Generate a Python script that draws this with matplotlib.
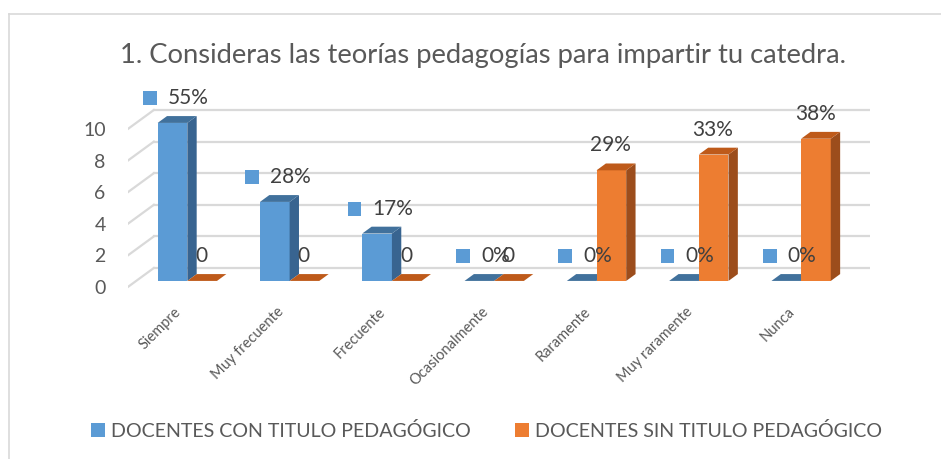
import matplotlib
matplotlib.use("Agg")
import matplotlib.pyplot as plt
from matplotlib.patches import Polygon, Patch, Rectangle
from matplotlib.lines import Line2D
from matplotlib.offsetbox import HPacker, DrawingArea, TextArea, AnnotationBbox

plt.rcParams['font.family'] = ['Lato', 'DejaVu Sans']

# ---- data ----
title = "1. Consideras las teorías pedagogías para impartir tu catedra."
categories = ["Siempre", "Muy frecuente", "Frecuente", "Ocasionalmente",
              "Raramente", "Muy raramente", "Nunca"]
con_titulo = [10, 5, 3, 0, 0, 0, 0]
sin_titulo = [0, 0, 0, 0, 7, 8, 9]
con_labels = ["55%", "28%", "17%", "0%", "0%", "0%", "0%"]
sin_labels = ["0", "0", "0", "0", "29%", "33%", "38%"]
y_ticks = [0, 2, 4, 6, 8, 10]
series_names = ["DOCENTES CON TITULO PEDAGÓGICO", "DOCENTES SIN TITULO PEDAGÓGICO"]

# ---- style / layout ----
W, H, DPI = 941, 459, 100
BLUE = dict(front="#5B9BD5", top="#41719C", side="#386490")
ORANGE = dict(front="#ED7D31", top="#BE5A1A", side="#9C4D1C")
GRID = "#D9D9D9"
AXTXT = "#595959"
LBLTXT = "#404040"

PX_CAT, PX_UNIT = 102.3, 15.8      # pixels per category / per value unit
X0_PX, Y0_PX = 179.0, 287.0         # pixel of category 0 / value 0 on front plane
DX, DY = 26 / PX_CAT, 19 / PX_UNIT  # full depth offset (back wall)
D1, D2 = 0.32, 0.68                 # bar front / back depth fraction
BW = 0.29                           # bar width (category units)

xmin, xmax = -0.5, len(categories) - 0.5 + DX
ymin, ymax = -0.3, 11.5

fig = plt.figure(figsize=(W / DPI, H / DPI), dpi=DPI)
left_px = X0_PX + xmin * PX_CAT
right_px = X0_PX + xmax * PX_CAT
bot_px = Y0_PX - ymin * PX_UNIT
top_px = Y0_PX - ymax * PX_UNIT
ax = fig.add_axes([left_px / W, 1 - bot_px / H, (right_px - left_px) / W, (bot_px - top_px) / H])
ax.set_xlim(xmin, xmax)
ax.set_ylim(ymin, ymax)
for s in ax.spines.values():
    s.set_visible(False)

# back wall gridlines + left wall diagonals
for v in y_ticks:
    ax.plot([-0.5 + DX, len(categories) - 0.5 + DX], [v + DY, v + DY], color=GRID, lw=1.6, zorder=1)
    ax.plot([-0.5, -0.5 + DX], [v, v + DY], color=GRID, lw=1.6, zorder=1)

def bar3d(x0, val, cols, z):
    x0 = x0 + D1 * DX
    b = D1 * DY
    x1 = x0 + BW
    t = b + val
    ddx, ddy = (D2 - D1) * DX, (D2 - D1) * DY
    if val > 0:
        ax.bar(x0, val, width=BW, bottom=b, align='edge', color=cols["front"], zorder=z, linewidth=0)
        ax.add_patch(Polygon([(x1, b), (x1, t), (x1 + ddx, t + ddy), (x1 + ddx, b + ddy)],
                             closed=True, color=cols["side"], zorder=z, lw=0))
    ax.add_patch(Polygon([(x0, t), (x1, t), (x1 + ddx, t + ddy), (x0 + ddx, t + ddy)],
                         closed=True, color=cols["top"], zorder=z, lw=0))

for i, (a, b) in enumerate(zip(con_titulo, sin_titulo)):
    bar3d(i - BW, a, BLUE, 3 + i * 2)
    bar3d(i, b, ORANGE, 4 + i * 2)

LBL_OFF = D2 * DY + 1.14
# data labels
for i, (a, lab) in enumerate(zip(con_titulo, con_labels)):
    da = DrawingArea(10, 10, 0, 0)
    da.add_artist(Rectangle((0, 0), 10, 10, color=BLUE["front"], lw=0))
    ta = TextArea(lab, textprops=dict(fontsize=15, color=LBLTXT))
    box = HPacker(children=[da, ta], align="center", pad=0, sep=8)
    ab = AnnotationBbox(box, (i - 0.03, a + LBL_OFF), xycoords='data', frameon=False,
                        box_alignment=(0.5, 0.5), pad=0, zorder=20, annotation_clip=False)
    ax.add_artist(ab)
for i, (b, lab) in enumerate(zip(sin_titulo, sin_labels)):
    ax.text(i + 0.22, b + LBL_OFF, lab, fontsize=15, color=LBLTXT, ha='center', va='center',
            zorder=21, clip_on=False)

# axes ticks
ax.set_yticks(y_ticks)
ax.set_yticklabels([str(v) for v in y_ticks])
ax.set_xticks(range(len(categories)))
ax.set_xticklabels(categories)
ax.tick_params(axis='y', length=0, pad=16, labelsize=14, labelcolor=AXTXT)
ax.tick_params(axis='x', length=0, pad=13, labelsize=10.5, labelcolor=AXTXT)
for lbl in ax.get_xticklabels():
    lbl.set_rotation(45)
    lbl.set_ha('right')
    lbl.set_va('center')
    lbl.set_rotation_mode('anchor')

# title
fig.text(483 / W, 1 - 63 / H, title, ha='center', va='baseline', fontsize=19.7, color=AXTXT)

# legend
handles = [Patch(facecolor=BLUE["front"], edgecolor='none'),
           Patch(facecolor=ORANGE["front"], edgecolor='none')]
fig.legend(handles, series_names, loc='center', bbox_to_anchor=(486.5 / W, 1 - 431 / H),
           ncol=2, frameon=False, fontsize=14.1, labelcolor=AXTXT,
           handlelength=0.7, handleheight=0.7, handletextpad=0.3, columnspacing=2.3)

# chart border
fig.add_artist(Line2D([9 / W, 9 / W], [0, 1 - 14 / H], color=GRID, lw=1.2))
fig.add_artist(Line2D([9 / W, 1], [1 - 14 / H, 1 - 14 / H], color=GRID, lw=1.2))

fig.savefig("out.png", dpi=DPI)
